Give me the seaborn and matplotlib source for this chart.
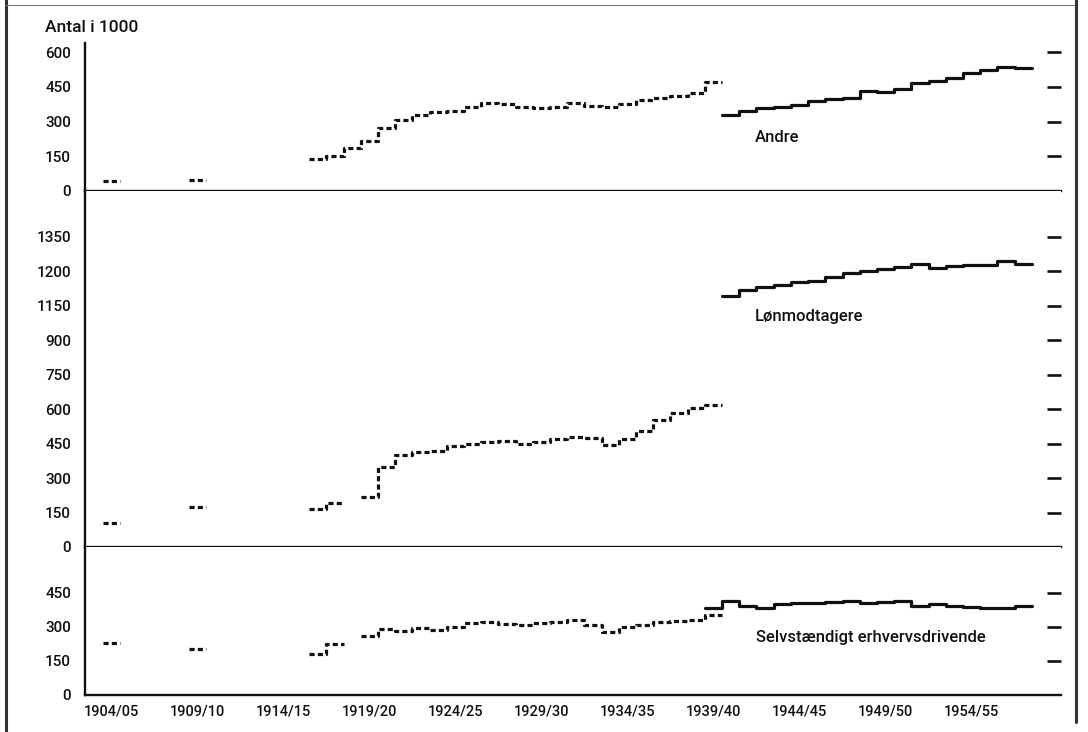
import pandas as pd
import seaborn as sns
import matplotlib.pyplot as plt
from matplotlib.lines import Line2D
from matplotlib.ticker import FixedLocator

sns.set_style("white")
plt.rcParams['font.family'] = ['Roboto', 'DejaVu Sans']
plt.rcParams['font.weight'] = 'medium'

# fiscal years are given by their start year (1904 -> 1904/05)
years_old = list(range(1904, 1940))
N = None
andre_old = [43, N, N, N, N, 47, N, N, N, N, N, N,
             140, 150, 185, 218, 271, 306, 328, 340, 345, 364, 381, 375,
             364, 357, 361, 381, 368, 364, 375, 392, 400, 410, 425, 472]
loen_old = [103, N, N, N, N, 176, N, N, N, N, N, N,
            166, 193, N, 219, 350, 401, 413, 420, 440, 448, 455, 462,
            448, 455, 471, 478, 474, 442, 471, 507, 554, 583, 605, 619]
selv_old = [230, N, N, N, N, 201, N, N, N, N, N, N,
            179, 223, N, 260, 289, 283, 293, 286, 298, 318, 322, 311,
            308, 315, 323, 330, 308, 279, 297, 308, 320, 326, 332, 350]

years_andre_new = list(range(1940, 1958))
andre_new = [330, 347, 357, 363, 370, 388, 398, 402, 433, 426, 439, 465,
             476, 489, 508, 522, 537, 530]
years_loen_new = list(range(1940, 1958))
loen_new = [1091, 1118, 1131, 1142, 1155, 1158, 1174, 1193, 1200, 1211, 1218,
            1234, 1215, 1222, 1229, 1229, 1244, 1233]
years_selv_new = list(range(1939, 1958))
selv_new = [381, 415, 393, 384, 400, 403, 406, 411, 415, 403, 411, 415, 393,
            400, 393, 385, 384, 381, 392]

panel_names = ["Andre", "Lønmodtagere", "Selvstændigt erhvervsdrivende"]
panel_ticks = [[0, 150, 300, 450, 600],
               [0, 150, 300, 450, 600, 750, 900, 1050, 1200, 1350],
               [0, 150, 300, 450]]
panel_ticklabels = [["0", "150", "300", "450", "600"],
                    ["0", "150", "300", "450", "600", "750", "900", "1150", "1200", "1350"],
                    ["0", "150", "300", "450"]]
panel_ylim = [639, 1550, 651]
label_pos = [(1941.9, 229), (1941.9, 1003), (1942.0, 251)]

label_years = [1904, 1909, 1914, 1919, 1924, 1929, 1934, 1939, 1944, 1949, 1954]
label_texts = ["1904/05", "1909/10", "1914/15", "1919/20", "1924/25", "1929/30",
               "1934/35", "1939/40", "1944/45", "1949/50", "1954/55"]


def step_rows(years, values, kind, panel, rows):
    run = []
    seg = len(rows)
    for y, v in zip(years + [None], values + [None]):
        if v is None:
            if run:
                seg += 1
                last_y, last_v = run[-1]
                for yy, vv in run + [(last_y + 1, last_v)]:
                    rows.append(dict(panel=panel, kind=kind, seg=f"{panel}-{kind}-{seg}",
                                     year=yy, value=vv))
                run = []
        else:
            run.append((y, v))


rows = []
step_rows(years_old, andre_old, "old", 0, rows)
step_rows(years_andre_new, andre_new, "new", 0, rows)
step_rows(years_old, loen_old, "old", 1, rows)
step_rows(years_loen_new, loen_new, "new", 1, rows)
step_rows(years_old, selv_old, "old", 2, rows)
step_rows(years_selv_new, selv_new, "new", 2, rows)
df = pd.DataFrame(rows)

fig, axes = plt.subplots(3, 1, sharex=True, figsize=(10.88, 7.32), dpi=100,
                         gridspec_kw=dict(height_ratios=[148, 356, 148], hspace=0))
fig.subplots_adjust(left=85 / 1088, right=1061 / 1088, top=1 - 43 / 732, bottom=1 - 695 / 732)

ink = "#111111"
for i, ax in enumerate(axes):
    sub = df[df.panel == i]
    sns.lineplot(data=sub, x="year", y="value", units="seg", estimator=None,
                 style="kind", dashes={"old": (1.6, 1.0), "new": ""},
                 color=ink, lw=2.3, drawstyle="steps-post", legend=False, ax=ax)
    ax.set_ylim(0, panel_ylim[i])
    ax.set_xlim(1902.97, 1959.7)
    ax.set_xlabel("")
    ax.set_ylabel("")
    for s in ["top", "right"]:
        ax.spines[s].set_visible(False)
    ax.spines["left"].set_linewidth(1.7)
    ax.spines["bottom"].set_linewidth(1.7)
    ax.spines["left"].set_color(ink)
    ax.spines["bottom"].set_color(ink)
    ax.set_yticks(panel_ticks[i], labels=panel_ticklabels[i])
    ax.tick_params(axis="y", direction="in", length=7, width=1.5, pad=10,
                   labelsize=11, colors=ink)
    right = ax.secondary_yaxis("right")
    right.set_yticks(panel_ticks[i][1:])
    right.tick_params(direction="in", length=10, width=1.9, labelright=False, colors=ink)
    right.spines["right"].set_visible(False)
    ax.text(label_pos[i][0], label_pos[i][1], panel_names[i], ha="left", va="center",
            fontsize=12, color=ink)
    if i < 2:
        ax.tick_params(axis="x", bottom=False, labelbottom=False)

axb = axes[2]
long_years = [y for y in range(1904, 1960) if (y - 1904) % 5 in (0, 1)]
short_years = [y for y in range(1904, 1960) if y not in long_years]
axb.xaxis.set_major_locator(FixedLocator(long_years))
axb.xaxis.set_minor_locator(FixedLocator(short_years))
axb.tick_params(axis="x", which="major", direction="in", length=8.5, width=1.5,
                labelbottom=False, colors=ink)
axb.tick_params(axis="x", which="minor", direction="in", length=5, width=1.5, colors=ink)
sec = axb.secondary_xaxis("bottom")
sec.set_xticks([y + 0.5 for y in label_years], labels=label_texts)
sec.tick_params(length=0, pad=7, labelsize=10.5, colors=ink)
sec.spines["bottom"].set_visible(False)

fig.text(45 / 1088, 1 - 28 / 732, "Antal i 1000", ha="left", va="center",
         fontsize=12.5, color=ink)

# scanned page frame
frame = "#333333"
fig.add_artist(Line2D([6 / 1088, 6 / 1088], [0, 1], transform=fig.transFigure, color=frame, lw=2.2))
fig.add_artist(Line2D([6 / 1088, 1076 / 1088], [1 - 5 / 732, 1 - 5 / 732], transform=fig.transFigure,
                      color="#777777", lw=0.8))
fig.add_artist(Line2D([1076 / 1088, 1076 / 1088], [1 - 722 / 732, 1], transform=fig.transFigure,
                      color=frame, lw=2.2))

fig.savefig("out.png", dpi=100)
